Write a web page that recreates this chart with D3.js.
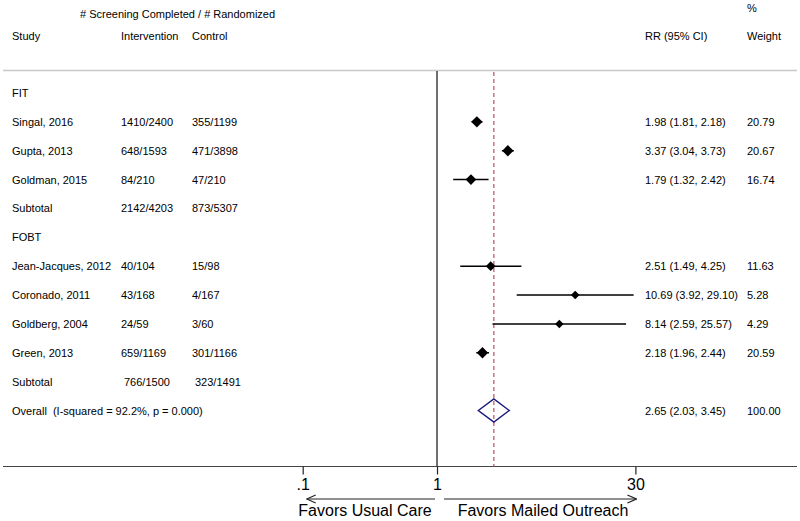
<!DOCTYPE html>
<html><head><meta charset="utf-8">
<script src="https://cdn.jsdelivr.net/npm/d3@7"></script>
<style>body{margin:0;background:#fff}svg{display:block}text{font-family:"Liberation Sans",Arial,sans-serif;white-space:pre}</style>
</head><body><svg id="c" width="800" height="521"></svg>
<script>
// Data
const rowLabels = ["FIT","Singal, 2016","Gupta, 2013","Goldman, 2015","Subtotal","FOBT","Jean-Jacques, 2012","Coronado, 2011","Goldberg, 2004","Green, 2013","Subtotal","Overall  (I-squared = 92.2%, p = 0.000)"];
const rowType = ["head","study","study","study","sub","head","study","study","study","study","sub","overall"];
const intervention = ["","1410/2400","648/1593","84/210","2142/4203","","40/104","43/168","24/59","659/1169","766/1500",""];
const control = ["","355/1199","471/3898","47/210","873/5307","","15/98","4/167","3/60","301/1166","323/1491",""];
const rr = [null,1.98,3.37,1.79,null,null,2.51,10.69,8.14,2.18,null,2.65];
const lo = [null,1.81,3.04,1.32,null,null,1.49,3.92,2.59,1.96,null,2.03];
const hi = [null,2.18,3.73,2.42,null,null,4.25,29.10,25.57,2.44,null,3.45];
const weight = [null,20.79,20.67,16.74,null,null,11.63,5.28,4.29,20.59,null,100.00];
const tickValues = [0.1,1,30];
const tickLabels = [".1","1","30"];

const svg = d3.select("#c");
const x = d3.scaleLog().domain([0.1,30]).range([302.7,635.4]);
const y = d3.scalePoint().domain(d3.range(rowLabels.length)).range([93,410.5]);
const size = d3.scaleLinear().domain([4,21]).range([4.2,5.7]);
const fs = 11;
const fmt = d3.format(".2f");

// headers
const hdr = svg.append("g").attr("font-size",fs).attr("fill","#000");
hdr.append("text").attr("x",80).attr("y",18).text("# Screening Completed / # Randomized");
hdr.append("text").attr("x",12).attr("y",40).text("Study");
hdr.append("text").attr("x",121).attr("y",40).text("Intervention");
hdr.append("text").attr("x",192).attr("y",40).text("Control");
hdr.append("text").attr("x",645).attr("y",40).text("RR (95% CI)");
hdr.append("text").attr("x",747).attr("y",12).text("%");
hdr.append("text").attr("x",747).attr("y",40).text("Weight");

// top gray rule
svg.append("line").attr("x1",3).attr("x2",797).attr("y1",70.5).attr("y2",70.5).attr("stroke","#c8c8c8").attr("stroke-width",1.5);

// axis
const axisY = 466.5;
svg.append("line").attr("x1",3).attr("x2",797).attr("y1",axisY).attr("y2",axisY).attr("stroke","#444").attr("stroke-width",1.2);
const axis = d3.axisBottom(x).tickValues(tickValues).tickFormat((d,i)=>tickLabels[i]).tickSize(8).tickPadding(4);
const ag = svg.append("g").attr("transform",`translate(0,${axisY})`).call(axis);
ag.select(".domain").remove();
ag.selectAll(".tick line").attr("stroke","#222").attr("stroke-width",1.2);
ag.selectAll(".tick text").attr("font-size",16).attr("fill","#000").attr("font-family","Liberation Sans, Arial, sans-serif");

// null line
svg.append("line").attr("x1",x(1)).attr("x2",x(1)).attr("y1",71).attr("y2",axisY).attr("stroke","#222").attr("stroke-width",1.3);
// overall dashed line
svg.append("line").attr("x1",x(rr[11])).attr("x2",x(rr[11])).attr("y1",72).attr("y2",axisY).attr("stroke","#c0606c").attr("stroke-width",1.3).attr("stroke-dasharray","4,3");

// rows
const rows = svg.append("g").attr("font-size",fs).attr("fill","#000");
rowLabels.forEach((lab,i)=>{
  const yy = y(i)+4;
  rows.append("text").attr("x",12).attr("y",yy).text(lab);
  const ix = i===10 ? 124 : 121;
  const cx = i===10 ? 195 : 192;
  if(intervention[i]) rows.append("text").attr("x",ix).attr("y",yy).text(intervention[i]);
  if(control[i]) rows.append("text").attr("x",cx).attr("y",yy).text(control[i]);
  if(rr[i]!=null){
    rows.append("text").attr("x",645).attr("y",yy).text(`${fmt(rr[i])} (${fmt(lo[i])}, ${fmt(hi[i])})`);
    rows.append("text").attr("x",747).attr("y",yy).text(fmt(weight[i]));
  }
});

// study markers
const marks = svg.append("g");
rr.forEach((v,i)=>{
  if(v==null) return;
  const cy = y(i);
  if(rowType[i]==="study"){
    marks.append("line").attr("x1",x(lo[i])).attr("x2",x(hi[i])).attr("y1",cy).attr("y2",cy).attr("stroke","#000").attr("stroke-width",1.5);
    const s = size(weight[i]);
    marks.append("path").attr("d",`M${x(v)-s},${cy}L${x(v)},${cy-s}L${x(v)+s},${cy}L${x(v)},${cy+s}Z`).attr("fill","#000");
  } else if(rowType[i]==="overall"){
    const h = 11.5;
    marks.append("path").attr("d",`M${x(lo[i])},${cy}L${x(v)},${cy-h}L${x(hi[i])},${cy}L${x(v)},${cy+h}Z`).attr("fill","none").attr("stroke","#1c1c80").attr("stroke-width",1.5);
  }
});

// favors arrows
const ay = 499;
const defs = svg.append("defs");
defs.append("marker").attr("id","ah").attr("viewBox","0 0 10 10").attr("refX",9).attr("refY",5).attr("markerWidth",10).attr("markerHeight",10).attr("markerUnits","userSpaceOnUse").attr("orient","auto")
  .append("path").attr("d","M0,1L9,5L0,9").attr("fill","none").attr("stroke","#222").attr("stroke-width",1.2);
svg.append("line").attr("x1",x(1)-2).attr("x2",x(0.1)+4).attr("y1",ay).attr("y2",ay).attr("stroke","#222").attr("stroke-width",1.2).attr("marker-end","url(#ah)");
svg.append("line").attr("x1",x(1)+7).attr("x2",x(30)+1).attr("y1",ay).attr("y2",ay).attr("stroke","#222").attr("stroke-width",1.2).attr("marker-end","url(#ah)");
svg.append("text").attr("x",365).attr("y",516).attr("text-anchor","middle").attr("font-size",16).text("Favors Usual Care");
svg.append("text").attr("x",543).attr("y",516).attr("text-anchor","middle").attr("font-size",16).text("Favors Mailed Outreach");
</script></body></html>
